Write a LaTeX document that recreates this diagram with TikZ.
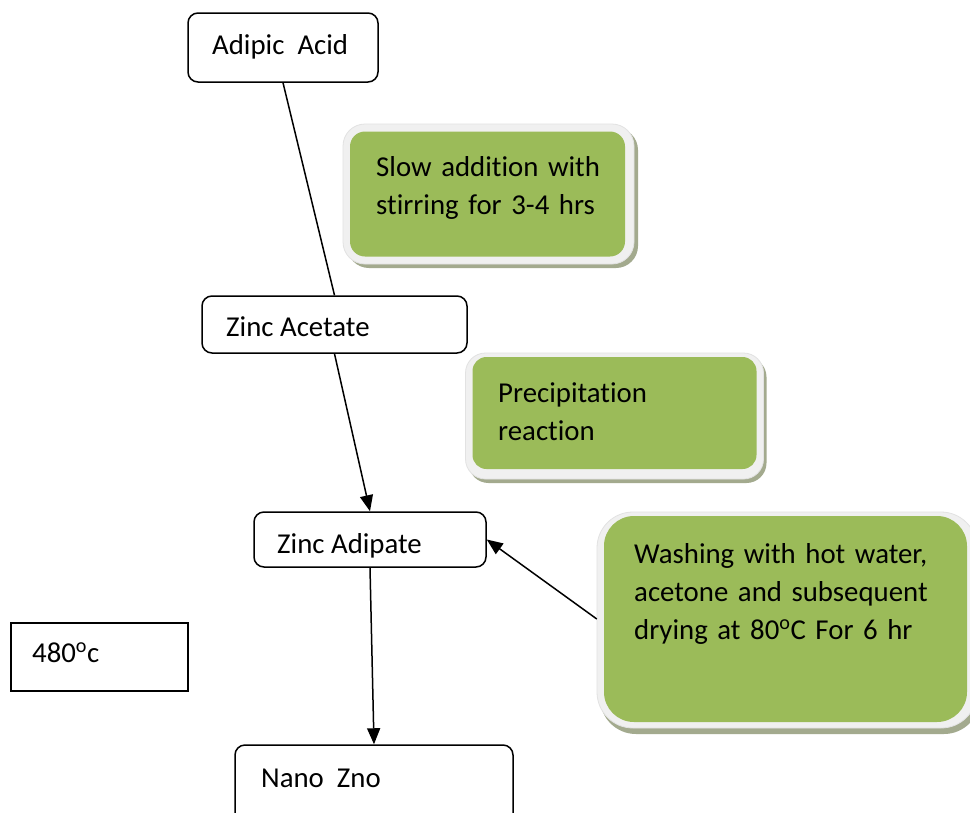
\documentclass[tikz,border=0pt]{standalone}
\usepackage{fontspec}
\setmainfont{Carlito}[Ligatures=NoCommon]
\usetikzlibrary{arrows.meta}
\definecolor{olive}{HTML}{9BBB59}
\definecolor{rim}{HTML}{F0F0F0}
\definecolor{rimedge}{HTML}{E2E2E2}
\definecolor{shade}{HTML}{A3AA8E}
\tikzset{
  whitebox/.style={draw=black, line width=1.5pt, rounded corners=10pt, fill=white, inner sep=0pt},
  plainbox/.style={draw=black, line width=1.5pt, fill=white, inner sep=0pt},
  greenbox/.style={fill=olive, inner sep=0pt, rounded corners=#1},
  rimbox/.style={fill=rim, draw=rimedge, line width=0.8pt, inner sep=0pt, rounded corners=#1},
  shadebox/.style={fill=shade, inner sep=0pt, rounded corners=#1},
  txt/.style={inner sep=0pt, anchor=base west, align=left, font=\fontsize{28.8pt}{38pt}\selectfont},
  conn/.style={line width=1.5pt, black},
  arr/.style={conn, -{Triangle[length=16pt,width=13pt]}},
}
\begin{document}
\begin{tikzpicture}[x=1pt,y=-1pt]
\useasboundingbox (0,0) rectangle (970,812);
\clip (0,0) rectangle (970,812);
\fill[white] (0,0) rectangle (970,812);

% ---- green process boxes (shadow, rim, green face) ----
% Slow addition
\node[shadebox=22pt, minimum width=291pt, minimum height=140pt] at (492.5,198) {};
\node[rimbox=22pt, minimum width=291pt, minimum height=140pt] at (488.5,194) {};
\node[greenbox=15pt, minimum width=275pt, minimum height=125pt] (slow) at (487.5,194) {};
% Precipitation
\node[shadebox=20pt, minimum width=298pt, minimum height=126pt] at (617.5,420) {};
\node[rimbox=20pt, minimum width=298pt, minimum height=126pt] at (614.5,416) {};
\node[greenbox=14pt, minimum width=284pt, minimum height=112pt] (precip) at (614.5,413) {};
% Washing
\node[shadebox=36pt, minimum width=380pt, minimum height=216pt] at (790,626) {};
\node[rimbox=36pt, minimum width=380pt, minimum height=216pt] at (787,620) {};
\node[greenbox=30pt, minimum width=363pt, minimum height=206pt] (wash) at (785.5,619) {};

% ---- plain boxes ----
\node[whitebox, minimum width=190pt, minimum height=69pt] (adipic) at (283,47.5) {};
\node[whitebox, minimum width=265pt, minimum height=57pt] (acetate) at (334.5,324.5) {};
\node[whitebox, minimum width=232pt, minimum height=55pt] (adipate) at (370,539.5) {};
\node[whitebox, minimum width=278pt, minimum height=80pt] (nano) at (374,785) {};
\node[plainbox, minimum width=177pt, minimum height=68pt] (temp) at (99.5,657) {};

% ---- texts ----
\node[txt] at (212,54) {Adipic~ Acid};
\node[txt] at (226,336) {Zinc Acetate};
\node[txt] at (277,553) {Zinc Adipate};
\node[txt] at (261,787) {Nano~ Zno};
\node[txt] at (32,662) {480\textsuperscript{o}c};
\node[txt, text width=260pt] at (376,176) {Slow addition with\\stirring for 3-4 hrs};
\node[txt, text width=250pt] at (498,402) {Precipitation\\reaction};
\node[txt, text width=330pt] at (634,563) {Washing with hot water,\\acetone and subsequent\\drying at 80\textsuperscript{o}C For 6 hr};

% ---- connectors ----
\draw[conn] (adipic.south) -- (acetate.north);
\draw[arr] (acetate.south) -- (adipate.north);
\draw[arr] (wash.west) ++(-7,0) coordinate (washin) (washin) -- (adipate.east);
\draw[arr] (adipate.south) -- (nano.north);
\end{tikzpicture}
\end{document}
